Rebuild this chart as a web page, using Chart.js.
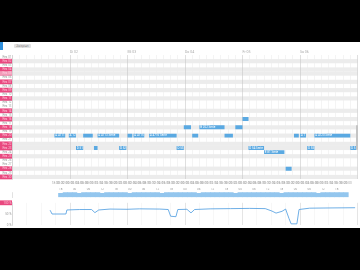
<!DOCTYPE html>
<html>
<head>
<meta charset="utf-8">
<script src="https://cdn.jsdelivr.net/npm/chart.js@4.4.1/dist/chart.umd.min.js"></script>
<style>
html, body { margin: 0; padding: 0; background: #000; width: 360px; height: 270px; overflow: hidden; }
#panel { position: absolute; left: 0; top: 42px; width: 360px; height: 186px; background: #fff; }
#tab { position: absolute; left: 0; top: 42px; width: 3px; height: 8px; background: #2f8fdc; }
#pill { position: absolute; left: 14px; top: 44px; width: 17px; height: 4px; background: #e2e2e2; border-radius: 1px;
        font: 3px 'DejaVu Sans', sans-serif; color: #777; line-height: 4px; text-align: center; overflow: hidden; }
#scroll { position: absolute; left: 356px; top: 125px; width: 2px; height: 25px; background: #c4c4c4; border-radius: 1px; }
canvas { position: absolute; left: 0; }
</style>
</head>
<body>
<div id="panel"></div>
<div id="tab"></div>
<div id="pill">Zeitplan</div>
<canvas id="main" width="360" height="144" style="top:44px"></canvas>
<canvas id="strip" width="360" height="12" style="top:188px"></canvas>
<canvas id="load" width="360" height="28" style="top:200px"></canvas>
<div id="scroll"></div>
<script>
// --- dados ---
const rowLabels = ['Res 01','Res 02','Res 03','Res 04','Res 05','Res 06','Res 07','Res 08','Res 09','Res 10',
                   'Res 11','Res 12','Res 13','Res 14','Res 15','Res 16','Res 17','Res 18','Res 19','Res 20',
                   'Res 21','Res 22','Res 23','Res 24','Res 25','Res 26','Res 27','Res 28','Res 29','Res 30'];
// 0 = normal, 1 = destacada, 2 = destacada clara
const rowFlag = [0,1,0,1,2,0,1,0,1,0,1,0,0,1,0,1,0,1,0,1,0,1,1,0,1,0,0,1,0,1];
const dayLabels = ['Di 02','Mi 03','Do 04','Fr 05','Sa 06'];

// barras do cronograma (horas desde o início)
const barRow   = [19,19,19,19,19,19,19,19,19,19,19,19, 17,17,17, 15, 22,22,22,22,22,22,22, 23, 27];
const barStart = [17.5,23.5,29.5,35.5,48,50.5,57,75,88.5,117.5,120,126, 71.5,78,93, 96, 26.5,34,44.5,68.5,98.5,123,141, 105, 114];
const barEnd   = [22,26.5,33.5,44.5,50,55,68.5,77.5,92,119.5,122.5,141, 74.5,88.5,96, 98.5, 29.5,35.5,47.5,71.5,105,126,143.5, 113.5, 116.5];
const barText  = ['A 4711','A 12','A 4712','A 4713 Serie','A 9','A 4715','A 4716 Serie','A 31','A 4718','A 2','A 7','A 4720 Serie',
                  'B 201','B 202 Serie','B 203', 'C 11', 'D 51','D 5','D 52','D 53','D 54 Serie','D 55','D 5', 'E 81 Serie', 'F 90'];

const stripHours  = [18,20,22,24,26,28,30,32,34,36,38,40,42,44,46,48,50,52,54,56,58,60,62,64,66,68,70,72,74,76,78,80,
                     82,84,86,88,90,92,94,96,98,100,102,104,106,108,110,112,114,116,118,120,122,124,126,128,130,132,134,136,138,140,142];
const stripValues = [6,7,7,7,6,7,7,7,7, 6,7,7,7,7,7,6,7,7, 7,7,7,7,6,7,7,7,7, 7,7,7,6,7,7,7,7,7,
                     7,7,6,7,7,7,7,7,7, 7,7,7,6,7,7,7,7,7, 7,7,6,7,7,7,7,7,7];

const lineHours  = [15.7,16.5,22.3,22.7,28,33,34.4,36,40.7,47.8,53,61.5,65,66,68.2,69,72.8,74.5,76,82.5,91,99,105.5,108.3,110,112.5,114,115.4,116.3,118.7,119.6,124,132.5,143];
const lineValues = [67,50,50,68,70,70,56,68,72,71,73,72,70,40,38,70,71,55,70,73,74,75,74,63,54,62,72,30,6,6,70,76,77,78];

Chart.defaults.font.family = "'Roboto', sans-serif";
Chart.defaults.animation = false;

const fixWidth = s => { s.width = 12.5; };
const pink = '#e9487f';
const pinkText = 'rgba(255,220,232,0.8)';

// faixas cinzas nas linhas destacadas (desenhadas antes da grade)
const stripes = {
    id: 'stripes',
    beforeDraw(chart) {
        const { ctx, chartArea: a, scales: { y } } = chart;
        const h = y.height / rowLabels.length;
        ctx.save();
        ctx.fillStyle = '#ececec';
        rowFlag.forEach((f, i) => {
            if (!f) return;
            const c = y.getPixelForValue(i);
            ctx.fillRect(a.left, c - h / 2, a.width, h);
        });
        ctx.restore();
    }
};

// texto branco dentro das barras
const barLabels = {
    id: 'barLabels',
    afterDatasetsDraw(chart) {
        const { ctx } = chart;
        const meta = chart.getDatasetMeta(0);
        ctx.save();
        ctx.font = "3px 'Roboto', sans-serif";
        ctx.fillStyle = '#fff';
        ctx.textBaseline = 'middle';
        meta.data.forEach((bar, i) => {
            const left = Math.min(bar.x, bar.base);
            const w = Math.abs(bar.x - bar.base);
            const t = barText[i];
            if (ctx.measureText(t).width + 1 > w) return;
            ctx.fillText(t, left + 0.8, bar.y);
        });
        ctx.restore();
    }
};

new Chart(document.getElementById('main'), {
    type: 'bar',
    data: {
        labels: rowLabels,
        datasets: [{
            data: barStart.map((s, i) => ({ x: [s, barEnd[i]], y: rowLabels[barRow[i]] })),
            backgroundColor: '#5aa9e2',
            borderWidth: 0,
            barPercentage: 0.95,
            categoryPercentage: 1
        }]
    },
    options: {
        indexAxis: 'y', responsive: false,
        layout: { padding: { top: 6, right: 2.5, left: 0, bottom: 0 } },
        plugins: { legend: { display: false }, tooltip: { enabled: false } },
        scales: {
            x: {
                type: 'linear', position: 'top', min: 0, max: 144,
                afterFit: s => { s.height = 5; },
                border: { display: false },
                grid: { drawTicks: false, lineWidth: 0.6, color: c => (c.tick && c.tick.value % 24 === 0) ? '#c9c9c9' : '#ededed' },
                ticks: {
                    stepSize: 3, autoSkip: false, maxRotation: 0, minRotation: 0, align: 'start', padding: 1,
                    font: { size: 3.5 }, color: '#aaa',
                    callback: v => (v % 24 === 0 && v > 0 && v < 144) ? dayLabels[v / 24 - 1] : ''
                }
            },
            x2: {
                type: 'linear', position: 'bottom', min: 0, max: 144,
                afterFit: s => { s.height = 9; },
                border: { display: false },
                grid: { display: false, drawTicks: false },
                ticks: {
                    stepSize: 2, autoSkip: false, maxRotation: 0, minRotation: 0, padding: 2,
                    font: { size: 3.2 }, color: '#a8a8a8',
                    callback: v => (v >= 18 && v <= 140) ? String(v % 24).padStart(2, '0') + ':00' : ''
                }
            },
            y: {
                afterFit: fixWidth,
                border: { color: '#cfcfcf', width: 0.6 },
                grid: { display: false, drawTicks: false },
                ticks: {
                    autoSkip: false, padding: 1, font: { size: 3 },
                    color: c => rowFlag[c.index] ? pinkText : '#a0a0a0',
                    showLabelBackdrop: c => rowFlag[c.index] > 0,
                    backdropColor: c => rowFlag[c.index] === 2 ? '#f39bb9' : pink,
                    backdropPadding: { left: 6, right: 0.5, top: 0.6, bottom: 0.6 }
                }
            }
        }
    },
    plugins: [stripes, barLabels]
});

new Chart(document.getElementById('strip'), {
    type: 'bar',
    data: {
        datasets: [{
            data: stripHours.map((h, i) => ({ x: h, y: stripValues[i] })),
            backgroundColor: '#93c6ee',
            borderWidth: 0, barPercentage: 1, categoryPercentage: 1
        }]
    },
    options: {
        responsive: false,
        layout: { padding: { right: 2.5, left: 0, top: 0, bottom: 0 } },
        plugins: { legend: { display: false }, tooltip: { enabled: false } },
        scales: {
            x: {
                type: 'linear', position: 'top', min: 0, max: 144,
                afterFit: s => { s.height = 4; },
                border: { display: false },
                grid: { display: false, drawTicks: false },
                ticks: {
                    stepSize: 6, autoSkip: false, maxRotation: 0, minRotation: 0, padding: 0.5,
                    font: { size: 3 }, color: '#999',
                    callback: v => (v >= 18 && v <= 138) ? String(v % 24).padStart(2, '0') : ''
                }
            },
            y: {
                min: 0, max: 8, afterFit: fixWidth,
                border: { color: '#cfcfcf', width: 0.6 }, grid: { display: false, drawTicks: false },
                ticks: {
                    stepSize: 4, padding: 1, font: { size: 3 },
                    color: c => c.index === 1 ? pinkText : 'rgba(0,0,0,0)',
                    showLabelBackdrop: c => c.index === 1,
                    backdropColor: pink,
                    backdropPadding: { left: 6, right: 0.5, top: 0.6, bottom: 0.6 },
                    callback: v => v === 4 ? 'Menge' : ''
                }
            }
        }
    }
});

new Chart(document.getElementById('load'), {
    type: 'line',
    data: {
        datasets: [{
            data: lineHours.map((h, i) => ({ x: h, y: lineValues[i] })),
            borderColor: '#4a9be0', borderWidth: 0.8, pointRadius: 0, tension: 0, fill: false
        }]
    },
    options: {
        responsive: false,
        layout: { padding: { right: 2.5, left: 0, top: 2, bottom: 2 } },
        plugins: { legend: { display: false }, tooltip: { enabled: false } },
        scales: {
            x: {
                type: 'linear', min: 0, max: 144,
                border: { display: false },
                grid: { drawTicks: false, lineWidth: 0.6, color: c => (c.tick && c.tick.value % 24 === 0) ? '#d4d4d4' : '#f2f2f2' },
                ticks: { display: false, stepSize: 6, autoSkip: false }
            },
            y: {
                min: 0, max: 100, afterFit: fixWidth,
                border: { color: '#cfcfcf', width: 0.6 },
                grid: { display: false, drawTicks: false },
                ticks: {
                    stepSize: 25, padding: 1, font: { size: 3 },
                    color: c => c.index >= 3 ? pinkText : '#999',
                    showLabelBackdrop: c => c.index >= 3,
                    backdropColor: pink,
                    backdropPadding: { left: 5, right: 0.5, top: 0.6, bottom: 0.6 },
                    callback: v => v + ' %'
                }
            }
        }
    }
});
</script>
</body>
</html>
